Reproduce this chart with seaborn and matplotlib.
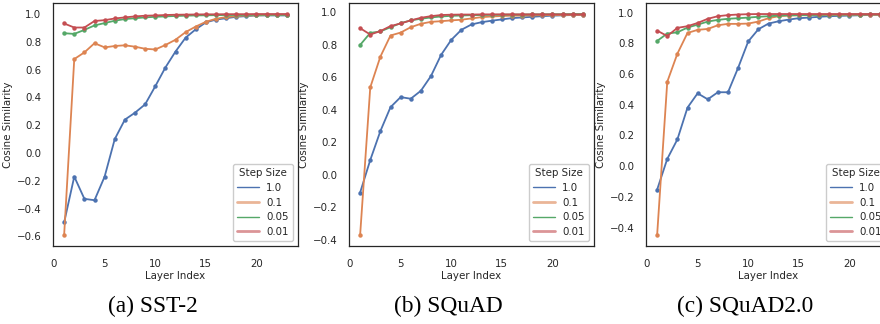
import numpy as np
import pandas as pd
import matplotlib
matplotlib.use("Agg")
import matplotlib.pyplot as plt
import matplotlib.lines as mlines
import seaborn as sns

sns.set_theme(style="white", palette="deep")

# data
layers = list(range(1, 24))
step_sizes = ["1.0", "0.1", "0.05", "0.01"]

sst2_10 = [-0.50, -0.17, -0.33, -0.34, -0.17, 0.10, 0.24, 0.29, 0.35, 0.48, 0.615, 0.73,
           0.83, 0.89, 0.94, 0.96, 0.97, 0.98, 0.985, 0.99, 0.99, 0.99, 0.99]
sst2_01 = [-0.59, 0.676, 0.724, 0.79, 0.76, 0.77, 0.775, 0.765, 0.75, 0.745, 0.777, 0.815,
           0.87, 0.91, 0.944, 0.966, 0.978, 0.985, 0.99, 0.99, 0.993, 0.994, 0.995]
sst2_005 = [0.862, 0.857, 0.886, 0.918, 0.935, 0.952, 0.964, 0.97, 0.976, 0.98, 0.983, 0.986,
            0.988, 0.99, 0.991, 0.992, 0.993, 0.993, 0.994, 0.994, 0.995, 0.995, 0.995]
sst2_001 = [0.932, 0.903, 0.903, 0.95, 0.956, 0.968, 0.976, 0.983, 0.988, 0.99, 0.993, 0.995,
            0.996, 0.997, 0.998, 0.998, 0.999, 0.999, 0.999, 1.0, 1.0, 1.0, 1.0]

squad_10 = [-0.108, 0.092, 0.27, 0.417, 0.479, 0.469, 0.518, 0.609, 0.739, 0.831, 0.893, 0.926,
            0.94, 0.949, 0.957, 0.965, 0.969, 0.973, 0.977, 0.98, 0.982, 0.984, 0.985]
squad_01 = [-0.369, 0.539, 0.728, 0.858, 0.876, 0.909, 0.93, 0.942, 0.946, 0.951, 0.955, 0.963,
            0.971, 0.975, 0.978, 0.98, 0.981, 0.982, 0.983, 0.984, 0.984, 0.985, 0.985]
squad_005 = [0.80, 0.874, 0.883, 0.909, 0.934, 0.951, 0.961, 0.969, 0.975, 0.979, 0.981, 0.983,
             0.984, 0.985, 0.986, 0.987, 0.987, 0.988, 0.988, 0.989, 0.989, 0.99, 0.99]
squad_001 = [0.903, 0.864, 0.885, 0.916, 0.932, 0.951, 0.967, 0.977, 0.984, 0.986, 0.987, 0.987,
             0.988, 0.988, 0.988, 0.988, 0.988, 0.988, 0.988, 0.988, 0.988, 0.988, 0.988]

squad2_10 = [-0.153, 0.047, 0.174, 0.381, 0.474, 0.435, 0.481, 0.481, 0.64, 0.812, 0.891, 0.928,
             0.943, 0.954, 0.963, 0.967, 0.972, 0.976, 0.978, 0.98, 0.982, 0.984, 0.985]
squad2_01 = [-0.448, 0.549, 0.732, 0.867, 0.887, 0.893, 0.917, 0.926, 0.926, 0.928, 0.941, 0.963,
             0.976, 0.98, 0.982, 0.983, 0.983, 0.984, 0.984, 0.985, 0.985, 0.985, 0.985]
squad2_005 = [0.815, 0.863, 0.871, 0.902, 0.921, 0.941, 0.952, 0.959, 0.963, 0.967, 0.972, 0.976,
              0.98, 0.982, 0.983, 0.984, 0.985, 0.986, 0.986, 0.987, 0.987, 0.988, 0.988]
squad2_001 = [0.882, 0.847, 0.90, 0.911, 0.932, 0.959, 0.976, 0.983, 0.987, 0.989, 0.99, 0.99,
              0.99, 0.99, 0.99, 0.99, 0.99, 0.99, 0.99, 0.99, 0.99, 0.99, 0.99]

panels = [
    ("(a) SST-2", [sst2_10, sst2_01, sst2_005, sst2_001]),
    ("(b) SQuAD", [squad_10, squad_01, squad_005, squad_001]),
    ("(c) SQuAD2.0", [squad2_10, squad2_01, squad2_005, squad2_001]),
]

colors = sns.color_palette("deep", 4)
FS = 7.4

fig = plt.figure(figsize=(8.8, 3.24), dpi=100)

# axes placed in pixels; the third one runs past the right edge like the reference
lefts = [53, 349, 646]
caption_x = [153, 448, 745]

for i, (caption, series) in enumerate(panels):
    ax = fig.add_axes([lefts[i] / 880, 78 / 324, 245 / 880, 243 / 324])

    rows = []
    for step, vals in zip(step_sizes, series):
        for layer, v in zip(layers, vals):
            rows.append({"Layer Index": layer, "Cosine Similarity": v, "Step Size": step})
    df = pd.DataFrame(rows)

    sns.lineplot(data=df, x="Layer Index", y="Cosine Similarity", hue="Step Size",
                 hue_order=step_sizes, palette=colors, marker="o", markersize=3.2,
                 markeredgewidth=0, linewidth=1.3, ax=ax, legend=False)

    ax.set_xticks([0, 5, 10, 15, 20])
    ax.tick_params(axis="x", labelsize=FS, pad=3.5)
    ax.tick_params(axis="y", labelsize=FS, pad=2.5)
    ax.set_xlabel("Layer Index", fontsize=FS, labelpad=1)
    ax.set_ylabel("Cosine Similarity", fontsize=FS, labelpad=2.5)
    for sp in ax.spines.values():
        sp.set_color("0.15")
        sp.set_linewidth(0.9)

    # legend handles as they look in the reference
    handles = [
        mlines.Line2D([], [], color=colors[0], linewidth=1.0, label="1.0"),
        mlines.Line2D([], [], color=colors[1], linewidth=2.0, alpha=0.6, label="0.1"),
        mlines.Line2D([], [], color=colors[2], linewidth=1.0, label="0.05"),
        mlines.Line2D([], [], color=colors[3], linewidth=2.0, alpha=0.6, label="0.01"),
    ]
    ax.legend(handles=handles, title="Step Size", loc="lower right", fontsize=FS,
              title_fontsize=FS, handlelength=2.1, handletextpad=0.7, labelspacing=0.45,
              borderpad=0.4, framealpha=1.0)

    fig.text(caption_x[i] / 880, 1 - 306 / 324, caption, ha="center", va="center",
             fontsize=16.8, family="Liberation Serif", color="black")

plt.savefig("out.png", dpi=100)
